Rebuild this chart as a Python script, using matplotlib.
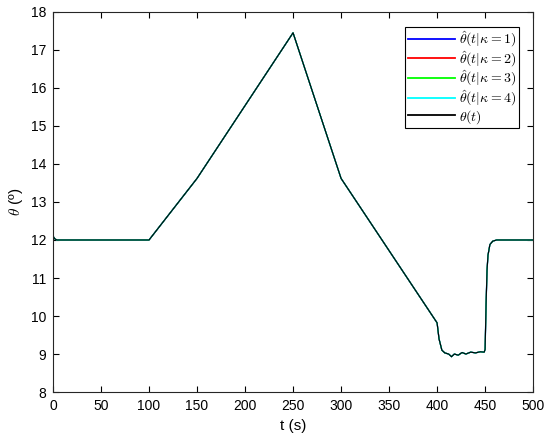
import matplotlib
matplotlib.use('Agg')
import matplotlib.pyplot as plt

plt.rcParams['font.family'] = ['Liberation Sans', 'DejaVu Sans']
plt.rcParams['mathtext.fontset'] = 'cm'

# breakpoints (time in s, angle in degrees)
t = [0, 2, 4, 100, 150, 250, 300, 400, 402, 405, 408, 412, 415, 418, 422, 426, 430, 435, 440, 445, 449, 450,
     451, 452, 453, 455, 458, 462, 500]
theta = [12.1, 12.03, 12.0, 12.0, 13.62, 17.45, 13.62, 9.82, 9.4, 9.1, 9.03, 9.0, 8.93, 9.0, 8.97, 9.04, 9.0,
         9.05, 9.03, 9.06, 9.05, 9.12, 10.3, 11.2, 11.6, 11.88, 11.97, 12.0, 12.0]

# estimates overlap the true angle throughout
theta_k1 = theta
theta_k2 = theta
theta_k3 = theta
theta_k4 = theta

fig = plt.figure(figsize=(5.44, 4.41), dpi=100)
ax = fig.add_axes([0.0974, 0.111, 0.8826, 0.862])

ax.plot(t, theta_k1, color='#0000ff', lw=0.9, label=r'$\hat{\theta}(t|\kappa=1)$')
ax.plot(t, theta_k2, color='#ff0000', lw=0.8, label=r'$\hat{\theta}(t|\kappa=2)$')
ax.plot(t, theta_k3, color='#00ff00', lw=0.8, label=r'$\hat{\theta}(t|\kappa=3)$')
ax.plot(t, theta_k4, color='#00ffff', lw=0.9, label=r'$\hat{\theta}(t|\kappa=4)$')
ax.plot(t, theta, color='black', lw=0.8, label=r'$\theta(t)$')

ax.set_xlim(0, 500)
ax.set_ylim(8, 18)
ax.set_xticks(range(0, 501, 50))
ax.set_yticks(range(8, 19))
ax.tick_params(direction='in', labelsize=10, length=4, top=True, right=True, pad=5)
for s in ax.spines.values():
    s.set_linewidth(0.8)
    s.set_color('#262626')

ax.set_xlabel('t (s)', fontsize=11)
ax.set_ylabel(r'$\theta$ (º)', fontsize=11)

leg = ax.legend(loc='upper right', bbox_to_anchor=(0.971, 0.961), fontsize=10, fancybox=False,
                edgecolor='black', framealpha=1, handlelength=3.4, borderpad=0.2, labelspacing=0.0,
                handletextpad=0.3, borderaxespad=0.0)
leg.get_frame().set_linewidth(0.8)
for line in leg.get_lines():
    line.set_linewidth(1.3)

fig.savefig('out.png', dpi=100)
